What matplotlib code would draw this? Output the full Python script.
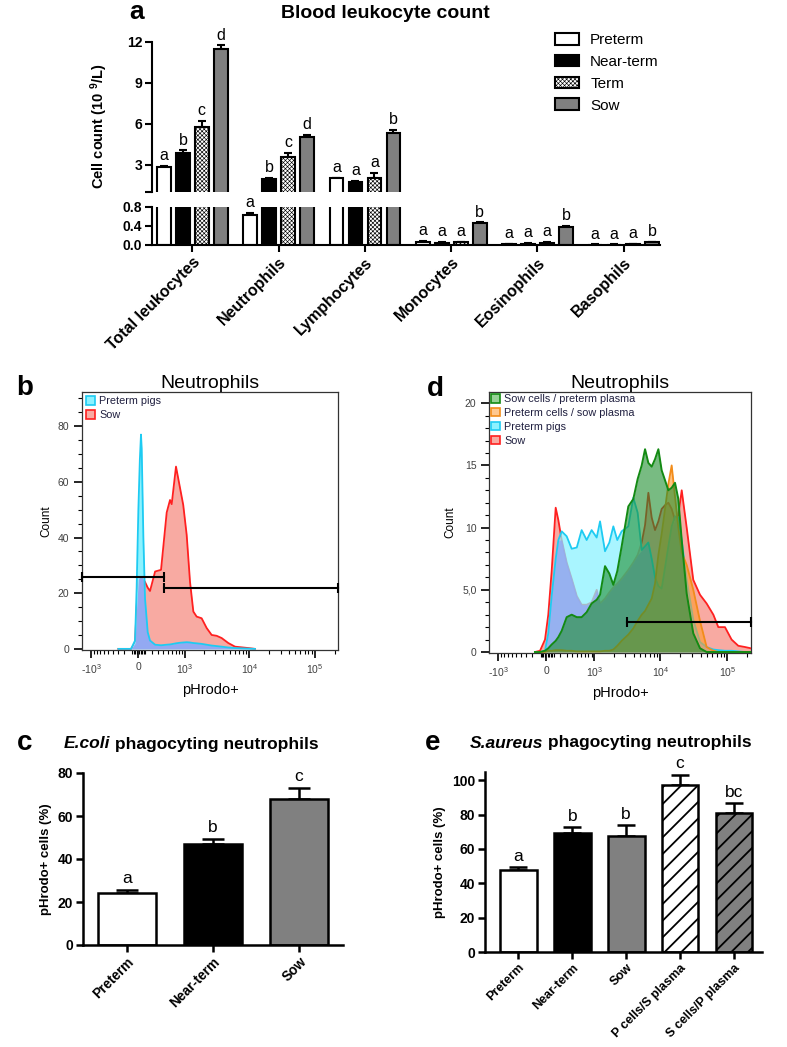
import numpy as np
import matplotlib
matplotlib.use('Agg')
import matplotlib.pyplot as plt
from matplotlib.patches import Patch

plt.rcParams['font.family'] = ['Liberation Sans', 'DejaVu Sans']
plt.rcParams['mathtext.fontset'] = 'custom'
plt.rcParams['mathtext.rm'] = 'Liberation Sans'
plt.rcParams['mathtext.bf'] = 'Liberation Sans:bold'
plt.rcParams['mathtext.it'] = 'Liberation Sans:italic'

# ---------------- Panel a data ----------------
a_cells = ['Total leukocytes', 'Neutrophils', 'Lymphocytes', 'Monocytes', 'Eosinophils', 'Basophils']
a_groups = ['Preterm', 'Near-term', 'Term', 'Sow']
a_preterm = [2.8, 0.62, 2.0, 0.07, 0.02, 0.01]
a_preterm_err = [0.1, 0.05, 0.06, 0.01, 0.005, 0.005]
a_nearterm = [3.85, 1.95, 1.75, 0.05, 0.03, 0.01]
a_nearterm_err = [0.2, 0.1, 0.06, 0.01, 0.01, 0.005]
a_term = [5.75, 3.55, 2.05, 0.06, 0.05, 0.02]
a_term_err = [0.45, 0.3, 0.35, 0.01, 0.01, 0.005]
a_sow = [11.5, 5.05, 5.35, 0.45, 0.38, 0.06]
a_sow_err = [0.25, 0.15, 0.2, 0.02, 0.02, 0.01]
a_let_preterm = ['a', 'a', 'a', 'a', 'a', 'a']
a_let_nearterm = ['b', 'b', 'a', 'a', 'a', 'a']
a_let_term = ['c', 'c', 'a', 'a', 'a', 'a']
a_let_sow = ['d', 'd', 'b', 'b', 'b', 'b']

# ---------------- Panel b data (pHrodo intensity, count) ----------------
b_x = [-300, -100, -43, -20, 4, 25, 41, 51, 75, 99, 138, 173, 254, 359, 474, 550, 591,
       706, 829, 938, 1068, 1211, 1368, 1543, 1848, 2212, 2644, 3156, 3768, 4768, 6040,
       9640, 12200]
b_preterm = [0, 0, 3, 22, 50, 68, 77, 72, 40, 18, 6, 3, 1.5, 1.3, 1.5, 1.6, 1.7, 2.0, 2.2,
             2.3, 2.4, 2.3, 2.1, 2.0, 1.8, 1.5, 1.2, 1.0, 0.8, 0.5, 0.3, 0.1, 0]
b_sow = [0, 0, 2, 15, 25, 26, 26, 26, 25, 24, 22, 20.8, 27.8, 28.4, 49, 53.5, 52, 65.5,
         57.8, 51.7, 41, 24, 13.4, 11.6, 11, 7.5, 5, 4.7, 3.9, 2.1, 0.8, 0.3, 0]
b_gate_low = (-1409, 418, 26.0)
b_gate_high = (410, 226000, 21.8)

# ---------------- Panel d data ----------------
d_x = [-161, -88, -19, 26, 73, 130, 169, 220, 302, 393, 498, 612, 748, 904, 1091, 1232,
       1472, 1717, 1975, 2268, 2643, 3326, 3953, 4590, 5280, 5925, 6640, 7450, 8350, 9370,
       10500, 11790, 13210, 14800, 16600, 18600, 20900, 24800, 31100, 39200, 49200, 62000,
       73500, 92400, 116000, 146000, 184000, 224000]
d_sow = [0, 0.1, 1.0, 3.0, 6.5, 11.6, 10.6, 9.0, 7.2, 5.9, 4.5, 3.8, 3.8, 4.0, 5.0, 3.9,
         4.3, 4.8, 5.2, 5.5, 5.9, 6.6, 7.2, 7.8, 8.8, 10.2, 12.8, 10.8, 9.8, 10.5, 11.5,
         11.8, 12.0, 11.5, 10.6, 11.0, 13.0, 10.0, 5.8, 4.6, 3.9, 3.0, 2.0, 2.0, 1.0, 0.5,
         0.4, 0.3]
d_preterm = [0, 0, 0.1, 1.5, 4.5, 7.5, 9.0, 9.7, 9.3, 8.3, 8.4, 9.8, 9.0, 9.8, 9.2, 10.5,
             8.1, 8.8, 10.1, 9.0, 9.7, 10.1, 12.4, 11.2, 8.2, 8.5, 8.8, 7.5, 6.0, 5.3, 5.1,
             6.8, 8.5, 10.1, 10.9, 10.8, 9.0, 5.8, 2.6, 0.8, 0.4, 0.2, 0.15, 0.1, 0.1, 0.05,
             0, 0]
d_pcells_splasma = [0, 0, 0, 0.1, 0.1, 0.15, 0.15, 0.15, 0.1, 0.1, 0.05, 0.05, 0.05, 0.05,
                    0.05, 0.05, 0.1, 0.1, 0.2, 0.5, 0.9, 1.4, 1.9, 2.5, 3.0, 3.3, 3.8, 4.3,
                    5.5, 7.8, 9.5, 11.5, 13.5, 15.0, 12.5, 10.0, 8.0, 7.0, 5.0, 2.5, 0.4,
                    0.1, 0, 0, 0, 0, 0, 0]
d_scells_pplasma = [0, 0, 0.1, 0.3, 0.6, 0.9, 1.2, 1.7, 2.8, 3.0, 2.8, 2.8, 3.2, 3.9, 4.2,
                    4.6, 6.9, 6.3, 5.4, 6.5, 8.5, 11.7, 12.3, 13.9, 15.0, 16.3, 15.2, 14.9,
                    15.5, 16.3, 14.6, 13.8, 13.0, 13.2, 13.6, 12.3, 9.0, 4.7, 1.5, 0.3, 0,
                    0, 0, 0, 0, 0, 0, 0]
d_gate = (3143, 226000, 2.45)

# ---------------- Panel c data ----------------
c_groups = ['Preterm', 'Near-term', 'Sow']
c_values = [24.3, 46.9, 67.8]
c_errors = [1.3, 2.6, 5.4]
c_letters = ['a', 'b', 'c']

# ---------------- Panel e data ----------------
e_groups = ['Preterm', 'Near-term', 'Sow', 'P cells/S plasma', 'S cells/P plasma']
e_values = [48.0, 69.5, 67.8, 97.3, 80.8]
e_errors = [1.3, 3.3, 6.0, 6.0, 5.8]
e_letters = ['a', 'b', 'b', 'c', 'bc']

W, H = 787, 1047
fig = plt.figure(figsize=(W / 100, H / 100), dpi=100)


def ax_px(l, t, r, b):
    return fig.add_axes([l / W, 1 - b / H, (r - l) / W, (b - t) / H])


def ftext(x, y, s, **kw):
    return fig.text(x / W, 1 - y / H, s, **kw)


# =============== Panel a ===============
ax_top = ax_px(152, 42, 660, 192)
ax_bot = ax_px(152, 206.7, 660, 245)
xlim_a = (-0.468, 5.42)
offs = [-0.33, -0.11, 0.11, 0.33]
bw = 0.16
plt.rcParams['hatch.linewidth'] = 0.45
series_a = [
    (a_preterm, a_preterm_err, a_let_preterm, dict(facecolor='white')),
    (a_nearterm, a_nearterm_err, a_let_nearterm, dict(facecolor='black')),
    (a_term, a_term_err, a_let_term, dict(facecolor='white', hatch='xxxxxxxx')),
    (a_sow, a_sow_err, a_let_sow, dict(facecolor='#808080')),
]
xa = np.arange(len(a_cells))
for ax in (ax_top, ax_bot):
    for k, (vals, errs, lets, st) in enumerate(series_a):
        xs = xa + offs[k]
        ax.bar(xs, vals, bw, edgecolor='black', linewidth=1.5, zorder=2, **st)
        ax.errorbar(xs, vals, yerr=[np.zeros(len(vals)), errs], fmt='none', ecolor='black',
                    elinewidth=1.5, capsize=3, capthick=1.5, zorder=1)
    ax.set_xlim(*xlim_a)
    for s in ('top', 'right'):
        ax.spines[s].set_visible(False)
    for s in ax.spines.values():
        s.set_linewidth(1.5)
    ax.tick_params(direction='out', length=5, width=1.5, labelsize=10, pad=2)
for k, (vals, errs, lets, st) in enumerate(series_a):
    for i in range(len(vals)):
        top = vals[i] + errs[i]
        ax = ax_top if top > 0.8 else ax_bot
        ax.annotate(lets[i], (xa[i] + offs[k], top), xytext=(0, 2), textcoords='offset points',
                    ha='center', va='bottom', fontsize=11.5)
ax_top.set_ylim(1, 12)
ax_top.spines['bottom'].set_visible(False)
ax_top.set_xticks([])
ax_top.set_yticks([1, 3, 6, 9, 12])
ax_top.set_yticklabels(['', '3', '6', '9', '12'], fontweight='bold')
ax_bot.set_ylim(0, 0.8)
ax_bot.set_yticks([0, 0.4, 0.8])
ax_bot.set_yticklabels(['0.0', '0.4', '0.8'], fontweight='bold')
ax_bot.set_xticks(xa)
ax_bot.set_xticklabels(a_cells, rotation=45, ha='right', rotation_mode='anchor',
                       fontweight='bold', fontsize=11.5)
ftext(99, 126, r'Cell count (10 $^{\mathbf{9}}$/L)', rotation=90, ha='center', va='center',
      fontweight='bold', fontsize=10.5)
ftext(385, 13, 'Blood leukocyte count', ha='center', va='center', fontweight='bold', fontsize=14)
ftext(137, 12, 'a', ha='center', va='center', fontweight='bold', fontsize=19)
a_handles = [Patch(edgecolor='black', linewidth=1.5, **series_a[k][3]) for k in range(4)]
fig.legend(a_handles, a_groups, loc='upper left', bbox_to_anchor=(555 / W, 1 - 33 / H),
           frameon=False, fontsize=11, handlelength=1.6, handleheight=0.8, labelspacing=0.5,
           handletextpad=0.7, borderaxespad=0, borderpad=0)


# =============== Flow panels ===============
def flow_axes(ax, ylim, yticks, yticklabels, yminor):
    ax.set_xscale('asinh', linear_width=400)
    ax.set_xlim(-1409, 226000)
    ax.set_ylim(*ylim)
    ax.set_xticks([-1000, 0, 1000, 10000, 100000])
    ax.set_xticklabels(['-10$^{3}$', '0', '10$^{3}$', '10$^{4}$', '10$^{5}$'])
    minor = ([-m * 100 for m in range(2, 10)] + [m * 100 for m in range(1, 10)] +
             [-m * 20 for m in range(1, 5)] + [m * 20 for m in range(1, 5)] +
             [m * 1000 for m in range(2, 10)] + [m * 10000 for m in range(2, 10)] + [200000])
    ax.set_xticks(minor, minor=True)
    ax.set_yticks(yticks)
    ax.set_yticklabels(yticklabels)
    ax.set_yticks(yminor, minor=True)
    ax.tick_params(which='major', direction='out', length=6, width=1.2, colors='black',
                   labelsize=7.5, labelcolor='#404040', pad=3)
    ax.tick_params(which='minor', direction='out', length=3, width=0.8)
    for s in ax.spines.values():
        s.set_linewidth(0.9)
        s.set_color('#333333')
    ax.set_ylabel('Count', fontsize=8.5, labelpad=4)
    ax.set_xlabel('pHrodo+', fontsize=10.5, labelpad=5)
    ax.set_title('Neutrophils', fontsize=14, pad=3)


def gate(ax, g):
    ax.plot([g[0], g[1]], [g[2], g[2]], color='black', lw=1.5, marker='|', ms=7, mew=1.5,
            clip_on=False, zorder=10)


# ---- b
axb = ax_px(82, 392, 338, 650)
flow_axes(axb, (-0.4, 92.3), [0, 20, 40, 60, 80], ['0', '20', '40', '60', '80'],
          [v for v in range(0, 95, 5) if v % 20])
bx = np.array(b_x, float)
bp = np.array(b_preterm, float)
bs = np.array(b_sow, float)
axb.fill_between(bx, 0, bs, color='#F8AAA2', lw=0, zorder=2)
axb.plot(bx, bs, color='#FF2020', lw=1.3, zorder=3)
axb.fill_between(bx, 0, bp, color='#8CF2FF', lw=0, zorder=4)
axb.fill_between(bx, 0, np.minimum(bp, bs), color='#93A9F2', lw=0, zorder=5)
axb.plot(bx, bp, color='#1ECBF2', lw=1.3, zorder=6)
gate(axb, b_gate_low)
gate(axb, b_gate_high)
axb.legend([Patch(facecolor='#8CF2FF', edgecolor='#1ECBF2', lw=1.2),
            Patch(facecolor='#F8AAA2', edgecolor='#FF2020', lw=1.2)],
           ['Preterm pigs', 'Sow'], loc='upper left', frameon=False, fontsize=7.8,
           handlelength=0.8, handleheight=0.8, handletextpad=0.4, labelspacing=0.35,
           borderaxespad=0.2, borderpad=0.2, labelcolor='#202040')
ftext(25, 388, 'b', ha='center', va='center', fontweight='bold', fontsize=20)

# ---- d
axd = ax_px(489, 392, 751, 653)
flow_axes(axd, (-0.08, 20.9), [0, 5, 10, 15, 20], ['0', '5,0', '10', '15', '20'],
          [v for v in range(0, 21) if v % 5])
dx = np.array(d_x, float)
ds = np.array(d_sow, float)
dp = np.array(d_preterm, float)
do = np.array(d_pcells_splasma, float)
dg = np.array(d_scells_pplasma, float)
axd.fill_between(dx, 0, ds, color='#F8AAA2', lw=0, zorder=2)
axd.plot(dx, ds, color='#FF2020', lw=1.3, zorder=3)
axd.fill_between(dx, 0, dp, color='#8CF2FF', lw=0, alpha=0.75, zorder=4)
axd.fill_between(dx, 0, np.minimum(dp, ds), color='#93A9F2', lw=0, alpha=0.85, zorder=5)
axd.plot(dx, dp, color='#1ECBF2', lw=1.3, zorder=6)
axd.fill_between(dx, 0, do, color='#FF9A2E', lw=0, alpha=0.6, zorder=7)
axd.plot(dx, do, color='#F28C1A', lw=1.3, zorder=8)
axd.fill_between(dx, 0, dg, color='#1F8F2F', lw=0, alpha=0.6, zorder=9)
axd.plot(dx, dg, color='#138A13', lw=1.4, zorder=10)
gate(axd, d_gate)
axd.legend([Patch(facecolor='#96D296', edgecolor='#138A13', lw=1.2),
            Patch(facecolor='#FFC890', edgecolor='#F28C1A', lw=1.2),
            Patch(facecolor='#8CF2FF', edgecolor='#1ECBF2', lw=1.2),
            Patch(facecolor='#F8AAA2', edgecolor='#FF2020', lw=1.2)],
           ['Sow cells / preterm plasma', 'Preterm cells / sow plasma', 'Preterm pigs', 'Sow'],
           loc='upper left', frameon=False, fontsize=7.8, handlelength=0.8, handleheight=0.8,
           handletextpad=0.4, labelspacing=0.35, borderaxespad=0.1, borderpad=0.1,
           labelcolor='#202040')
ftext(435, 389, 'd', ha='center', va='center', fontweight='bold', fontsize=20)


# =============== Bar panels c and e ===============
def bar_panel(ax, groups, values, errors, letters, styles, capsize, xlim, ylim, yticks,
              xfont):
    x = np.arange(len(groups))
    for i in range(len(groups)):
        ax.bar(x[i], values[i], 0.68, edgecolor='black', linewidth=1.8, zorder=2, **styles[i])
    ax.errorbar(x, values, yerr=[np.zeros(len(values)), errors], fmt='none', ecolor='black',
                elinewidth=1.8, capsize=capsize, capthick=1.8, zorder=1)
    for i in range(len(groups)):
        ax.annotate(letters[i], (x[i], values[i] + errors[i]), xytext=(0, 2.5),
                    textcoords='offset points', ha='center', va='bottom', fontsize=12.5)
    ax.set_xlim(*xlim)
    ax.set_ylim(*ylim)
    ax.set_yticks(yticks)
    ax.set_yticklabels([str(v) for v in yticks], fontweight='bold', fontsize=10)
    ax.set_xticks(x)
    ax.set_xticklabels(groups, rotation=45, ha='right', rotation_mode='anchor',
                       fontweight='bold', fontsize=xfont)
    for s in ('top', 'right'):
        ax.spines[s].set_visible(False)
    for s in ax.spines.values():
        s.set_linewidth(1.8)
    ax.tick_params(direction='out', length=5, width=1.8, pad=2)
    ax.set_ylabel('pHrodo+ cells (%)', fontweight='bold', fontsize=9.5, labelpad=4)


def mixed_title(xc, yc, parts, fontsize):
    texts = [ftext(0, yc, s, style=st, fontweight='bold', fontsize=fontsize, ha='left',
                   va='center') for s, st in parts]
    fig.canvas.draw()
    r = fig.canvas.get_renderer()
    widths = [t.get_window_extent(r).width for t in texts]
    x = xc - sum(widths) / 2
    for t, w in zip(texts, widths):
        t.set_x(x / W)
        x += w


axc = ax_px(83, 773, 343, 945)
bar_panel(axc, c_groups, c_values, c_errors, c_letters,
          [dict(facecolor='white'), dict(facecolor='black'), dict(facecolor='#808080')],
          8, (-0.51, 2.51), (0, 80), [0, 20, 40, 60, 80], 9.8)
ftext(25, 743, 'c', ha='center', va='center', fontweight='bold', fontsize=20)

plt.rcParams['hatch.linewidth'] = 1.3
axe = ax_px(485, 771.7, 762, 952)
bar_panel(axe, e_groups, e_values, e_errors, e_letters,
          [dict(facecolor='white'), dict(facecolor='black'), dict(facecolor='#808080'),
           dict(facecolor='white', hatch='//'), dict(facecolor='#808080', hatch='//')],
          6.5, (-0.62, 4.52), (0, 105), [0, 20, 40, 60, 80, 100], 9)
ftext(433, 743, 'e', ha='center', va='center', fontweight='bold', fontsize=20)

mixed_title(191, 744, [('E.coli', 'italic'), (' phagocyting neutrophils', 'normal')], 12.5)
mixed_title(611, 743, [('S.aureus', 'italic'), (' phagocyting neutrophils', 'normal')], 12.5)

fig.savefig('out.png', dpi=100)
